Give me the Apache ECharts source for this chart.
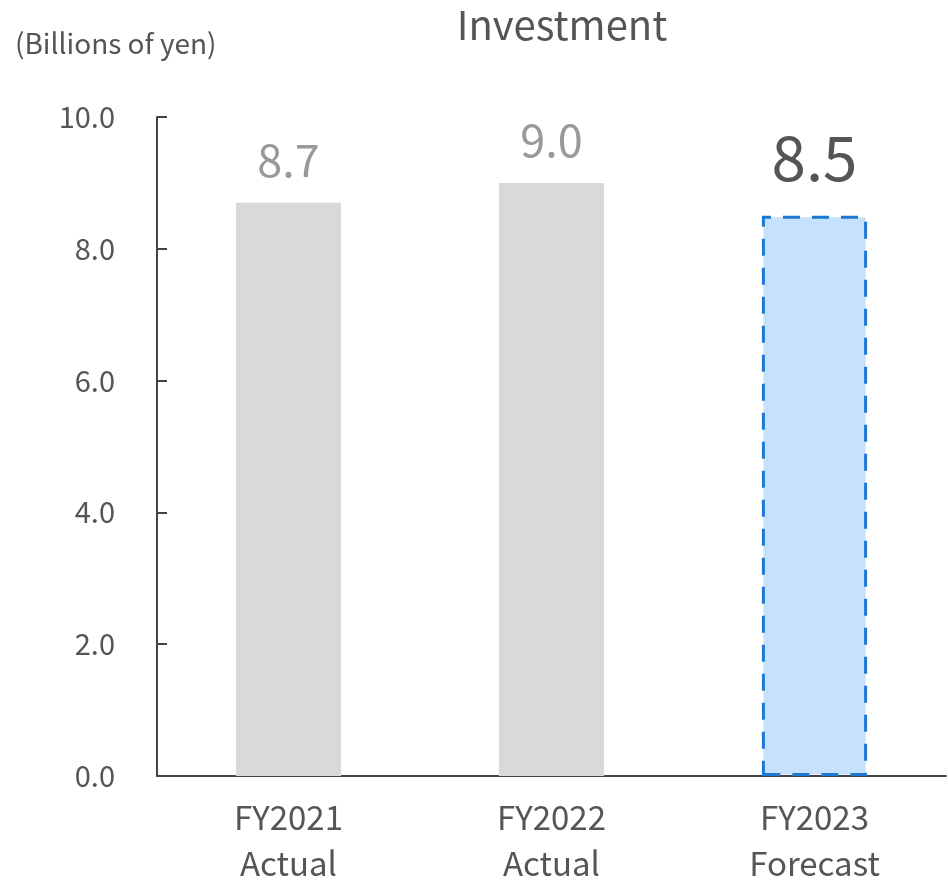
<!DOCTYPE html>
<html>
<head>
<meta charset="utf-8">
<script src="https://cdn.jsdelivr.net/npm/echarts@6/dist/echarts.min.js"></script>
<style>
  html, body { margin: 0; padding: 0; background: #fff; }
  #chart { width: 948px; height: 886px; }
</style>
</head>
<body>
<div id="chart"></div>
<script>
// Investment by fiscal year (billions of yen)
const categories = ['FY2021\nActual', 'FY2022\nActual', 'FY2023\nForecast'];
const values = [8.7, 9.0, 8.5];
const isForecast = [false, false, true];
const yTicks = [0, 2, 4, 6, 8, 10];

const FONT = '"Noto Sans CJK JP", "Noto Sans", sans-serif';

const chart = echarts.init(document.getElementById('chart'));

const barData = values.map((v, i) => {
  if (isForecast[i]) {
    return {
      value: v,
      itemStyle: {
        color: '#c6e1fb',
        borderColor: '#1f78d1',
        borderWidth: 3,
        borderType: [17, 12]
      },
      label: { fontSize: 62, color: '#555555', distance: 27 }
    };
  }
  return { value: v };
});

chart.setOption({
  animation: false,
  textStyle: { fontFamily: FONT },
  title: [
    {
      text: 'Investment',
      left: 557, top: 0, textAlign: 'center',
      textStyle: { fontFamily: FONT, fontSize: 40, fontWeight: 'normal', color: '#555555' }
    },
    {
      text: '(Billions of yen)',
      left: 10, top: 24,
      textStyle: { fontFamily: FONT, fontSize: 28, fontWeight: 'normal', color: '#555555' }
    }
  ],
  grid: { left: 157, right: 2, top: 117, bottom: 106 },
  xAxis: {
    type: 'category',
    data: categories,
    axisLine: { lineStyle: { color: '#444444', width: 2 } },
    axisTick: { show: false },
    axisLabel: {
      fontFamily: FONT, fontSize: 33, color: '#555555',
      lineHeight: 46, margin: 18
    }
  },
  yAxis: {
    type: 'value',
    min: 0, max: 10, interval: 2,
    axisLine: { show: true, lineStyle: { color: '#444444', width: 2 } },
    axisTick: { show: true, inside: true, length: 10, lineStyle: { color: '#444444', width: 2 } },
    splitLine: { show: false },
    axisLabel: {
      fontFamily: FONT, fontSize: 29, color: '#555555', margin: 42,
      formatter: v => yTicks.includes(v) ? v.toFixed(1) : ''
    }
  },
  series: [{
    type: 'bar',
    data: barData,
    barWidth: '40%',
    itemStyle: { color: '#d9d9d9' },
    label: {
      show: true, position: 'top', distance: 20,
      fontFamily: FONT, fontSize: 45, color: '#999999',
      formatter: p => p.value.toFixed(1)
    }
  }]
});
</script>
</body>
</html>
